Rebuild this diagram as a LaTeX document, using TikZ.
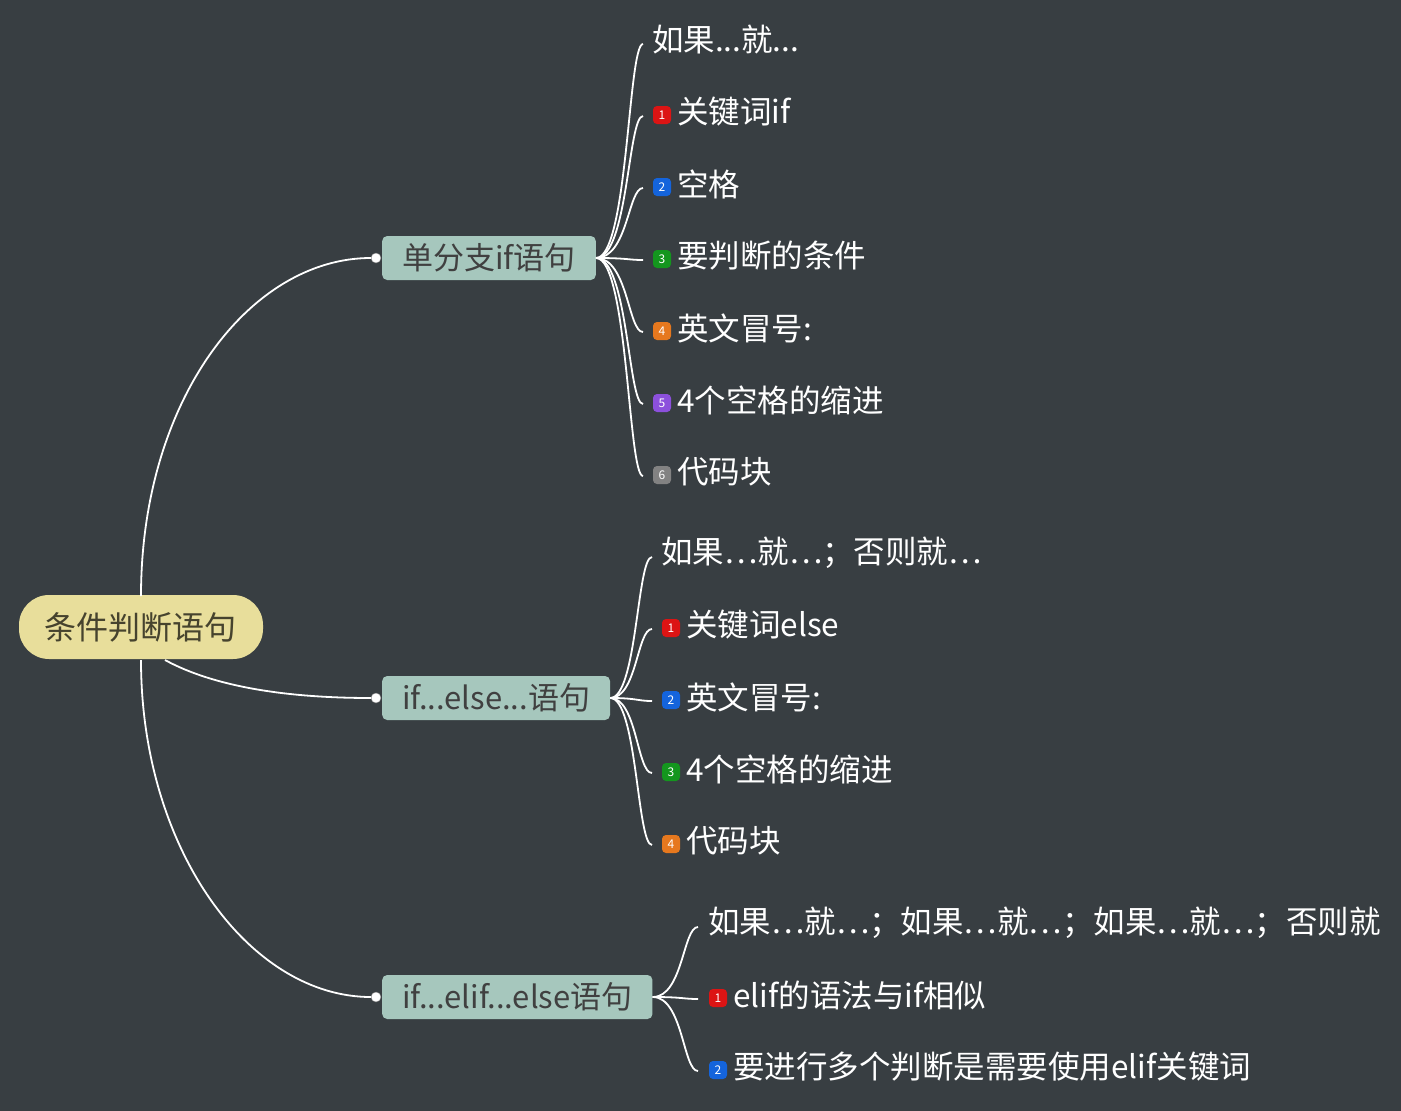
\documentclass[tikz,border=0pt]{standalone}
\usepackage{fontspec}
\setmainfont{Noto Sans CJK SC}
\definecolor{bg}{RGB}{56,62,66}
\definecolor{rootc}{RGB}{232,222,155}
\definecolor{brc}{RGB}{166,199,189}
\definecolor{b1}{RGB}{220,20,20}
\definecolor{b2}{RGB}{20,100,220}
\definecolor{b3}{RGB}{20,150,30}
\definecolor{b4}{RGB}{230,120,30}
\definecolor{b5}{RGB}{140,80,220}
\definecolor{b6}{RGB}{130,130,130}
\begin{document}
\begin{tikzpicture}[x=1pt,y=-1pt,
  conn/.style={white,line width=1.8pt},
  leaf/.style={anchor=west,inner sep=0pt,text=white,font=\fontsize{31.5}{33}\selectfont},
  br/.style={fill=brc,rounded corners=5pt,minimum height=44pt,text=black!75,font=\fontsize{31}{33}\selectfont,inner xsep=20pt,anchor=west},
  badge/.style={fill=#1,rounded corners=4pt,minimum size=18pt,inner sep=0pt,text=white,font=\fontsize{12}{12}\selectfont\itshape},
  dot/.style={circle,fill=white,draw=gray,minimum size=10pt,inner sep=0pt}]
\fill[bg] (0,0) rectangle (1401,1111);
\useasboundingbox (0,0) rectangle (1401,1111);
% root
\node[fill=rootc,rounded corners=30pt,minimum width=244pt,minimum height=64pt,text=black!70!rootc,font=\fontsize{32}{34}\selectfont] (root) at (141,627) {条件判断语句};
% branches
\node[br] (B1) at (382,258) {单分支if语句};
\node[br] (B2) at (382,698) {if...else...语句};
\node[br] (B3) at (382,997) {if...elif...else语句};
\foreach \b in {B1,B2,B3}{\node[dot] (\b d) at ([xshift=-6pt]\b.west) {};}
\draw[conn] (141,596) .. controls (141,400) and (250,258) .. (B1d);
\draw[conn] (165,660) .. controls (220,690) and (300,698) .. (B2d);
\draw[conn] (141,660) .. controls (141,850) and (250,997) .. (B3d);
% branch 1
\foreach \y in {40,112,184,256,328,400,472}{
  \draw[conn] (B1.east) .. controls (628,258) and (628,\y+4) .. (643,\y+4);
}
\node[leaf] (t1a) at (652,40) {如果...就...};
\foreach \n/\y/\c/\num/\t in {b/112/b1/1/关键词if,c/184/b2/2/空格,d/256/b3/3/要判断的条件,e/328/b4/4/英文冒号:,f/400/b5/5/4个空格的缩进,g/472/b6/6/代码块}{
  \node[badge=\c] (k1\n) at (662,\y+3) {\num};
  \node[leaf] (t1\n) at (677,\y) {\t};
}
% branch 2
\foreach \y in {553,625,697,769,841}{
  \draw[conn] (B2.east) .. controls (637,698) and (637,\y+4) .. (652,\y+4);
}
\node[leaf] (t2a) at (661,553) {如果…就…；否则就…};
\foreach \n/\y/\c/\num/\t in {b/625/b1/1/关键词else,c/697/b2/2/英文冒号:,d/769/b3/3/4个空格的缩进,e/841/b4/4/代码块}{
  \node[badge=\c] (k2\n) at (671,\y+3) {\num};
  \node[leaf] (t2\n) at (686,\y) {\t};
}
% branch 3
\foreach \y in {923,995,1067}{
  \draw[conn] (B3.east) .. controls (683,997) and (683,\y+4) .. (698,\y+4);
}
\node[leaf] (t3a) at (708,923) {如果…就…；如果…就…；如果…就…；否则就};
\foreach \n/\y/\c/\num/\t in {b/995/b1/1/elif的语法与if相似,c/1067/b2/2/要进行多个判断是需要使用elif关键词}{
  \node[badge=\c] (k3\n) at (718,\y+3) {\num};
  \node[leaf] (t3\n) at (733,\y) {\t};
}
\end{tikzpicture}
\end{document}
